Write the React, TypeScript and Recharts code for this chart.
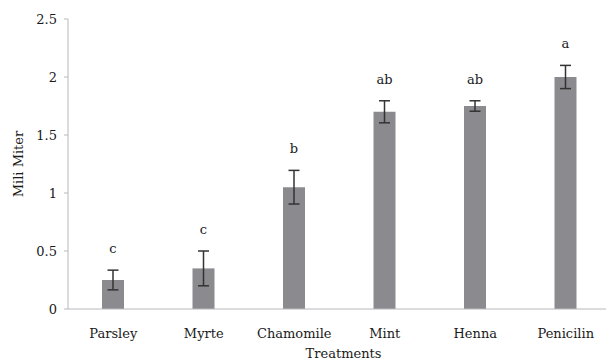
import { BarChart, Bar, XAxis, YAxis, ErrorBar, LabelList, Label } from "recharts";

const treatments = ["Parsley", "Myrte", "Chamomile", "Mint", "Henna", "Penicilin"];
const means = [0.25, 0.35, 1.05, 1.7, 1.75, 2.0];
const errors = [0.085, 0.15, 0.145, 0.095, 0.045, 0.1];
const letters = ["c", "c", "b", "ab", "ab", "a"];
const yTicks = [0, 0.5, 1, 1.5, 2, 2.5];

const data = treatments.map((name, i) => ({
  name,
  value: means[i],
  err: errors[i],
  letter: letters[i],
}));

const font = "'DejaVu Serif', serif";

// letters sit a fixed distance above the top of each error bar
const LetterLabel = (props: any) => {
  const { x, y, width, height, index } = props;
  const d = data[index];
  const pxPerUnit = height / d.value;
  const top = y - d.err * pxPerUnit;
  return (
    <text
      x={x + width / 2}
      y={top - 17}
      textAnchor="middle"
      fontFamily={font}
      fontSize={13}
      fill="#1a1a1a"
    >
      {d.letter}
    </text>
  );
};

const YTitle = ({ viewBox }: any) => {
  const cx = 18;
  const cy = viewBox.y + viewBox.height / 2;
  return (
    <text
      x={cx}
      y={cy}
      transform={`rotate(-90 ${cx} ${cy})`}
      textAnchor="middle"
      dominantBaseline="central"
      fontFamily={font}
      fontSize={13}
      fill="#1a1a1a"
    >
      Mili Miter
    </text>
  );
};

export default function App() {
  return (
    <div
      style={{
        position: "fixed",
        left: 0,
        top: 0,
        width: 606,
        height: 362,
        overflow: "hidden",
        background: "#fff",
      }}
    >
      <BarChart
        width={615}
        height={380}
        data={data}
        margin={{ top: 19, right: 4, bottom: 19, left: 0 }}
      >
        <XAxis
          dataKey="name"
          height={52}
          tickLine={false}
          stroke="#b8b8bc"
          tick={{ fill: "#1a1a1a", fontFamily: font, fontSize: 13 }}
          tickMargin={14}
        >
          <Label
            value="Treatments"
            position="insideBottom"
            offset={3}
            dx={4}
            fill="#1a1a1a"
            fontFamily={font}
            fontSize={13}
          />
        </XAxis>
        <YAxis
          width={68}
          domain={[0, 2.5]}
          ticks={yTicks}
          tickSize={4}
          tickMargin={7}
          stroke="#b8b8bc"
          tick={{ fill: "#1a1a1a", fontFamily: font, fontSize: 13 }}
          tickFormatter={(v) => `${v}`}
        >
          <Label content={<YTitle />} />
        </YAxis>
        <Bar dataKey="value" fill="#8b8b8f" barSize={22} isAnimationActive={false}>
          <ErrorBar dataKey="err" width={5.5} stroke="#333" strokeWidth={1.5} />
          <LabelList dataKey="letter" content={<LetterLabel />} />
        </Bar>
      </BarChart>
    </div>
  );
}
